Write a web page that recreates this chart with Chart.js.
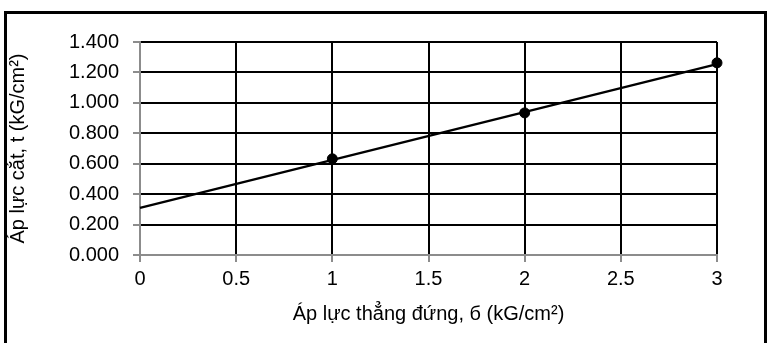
<!DOCTYPE html>
<html>
<head>
<meta charset="utf-8">
<script src="https://cdn.jsdelivr.net/npm/chart.js@4"></script>
<style>
  html, body { margin: 0; padding: 0; background: #fff; overflow: hidden; }
  #wrap { position: relative; width: 771px; height: 343px; }
  #frame { position: absolute; left: 4px; top: 11px; width: 757px; height: 400px; border: 3px solid #000; }
  #myChart { position: absolute; left: 0; top: 0; }
</style>
</head>
<body>
<div id="wrap">
  <div id="frame"></div>
  <canvas id="myChart" width="771" height="343"></canvas>
</div>
<script>
// measured points
const stressX = [1, 2, 3];
const shearY = [0.632, 0.934, 1.263];
// linear trendline ends
const trendX = [0, 3];
const trendY = [0.31, 1.255];

const xTitle = 'Áp lực thẳng đứng, б (kG/cm²)';
const yTitle = 'Áp lực cắt, t (kG/cm²)';

const gray = '#8c8c8c';
const font = { family: 'Liberation Sans, Arial, sans-serif', size: 20 };

const toPoints = (xs, ys) => xs.map((x, i) => ({ x: x, y: ys[i] }));

const config = {
    type: 'scatter',
    data: {
        datasets: [{
            label: 'Trend',
            data: toPoints(trendX, trendY),
            showLine: true,
            borderColor: '#000',
            borderWidth: 2.2,
            pointRadius: 0,
            clip: false
        }, {
            label: 'Data',
            data: toPoints(stressX, shearY),
            backgroundColor: '#000',
            borderColor: '#000',
            pointRadius: 5,
            clip: false
        }]
    },
    options: {
        responsive: false,
        animation: false,
        layout: { padding: { left: 0, top: 42, right: 54, bottom: 0 } },
        plugins: { legend: { display: false }, tooltip: { enabled: false } },
        scales: {
            x: {
                type: 'linear',
                min: 0, max: 3,
                afterFit: (s) => { s.height = 88; },
                ticks: { stepSize: 0.5, color: '#000', font: font, padding: 5,
                    callback: (v) => String(v) },
                grid: { color: '#000', lineWidth: 2, tickColor: gray, tickLength: 7 },
                border: { color: gray, width: 2 },
                title: { display: true, text: xTitle, color: '#000', font: font, padding: { top: 0, bottom: 17 } }
            },
            y: {
                min: 0, max: 1.4,
                afterFit: (s) => { s.width = 140; },
                ticks: { stepSize: 0.2, color: '#000', font: font, padding: 14,
                    callback: (v) => v.toFixed(3) },
                grid: { color: '#000', lineWidth: 2, tickColor: gray, tickLength: 7 },
                border: { color: gray, width: 2 },
                title: { display: true, text: yTitle, color: '#000', font: font, padding: { top: 6, bottom: 0 } }
            }
        }
    }
};

new Chart(document.getElementById('myChart'), config);
</script>
</body>
</html>
